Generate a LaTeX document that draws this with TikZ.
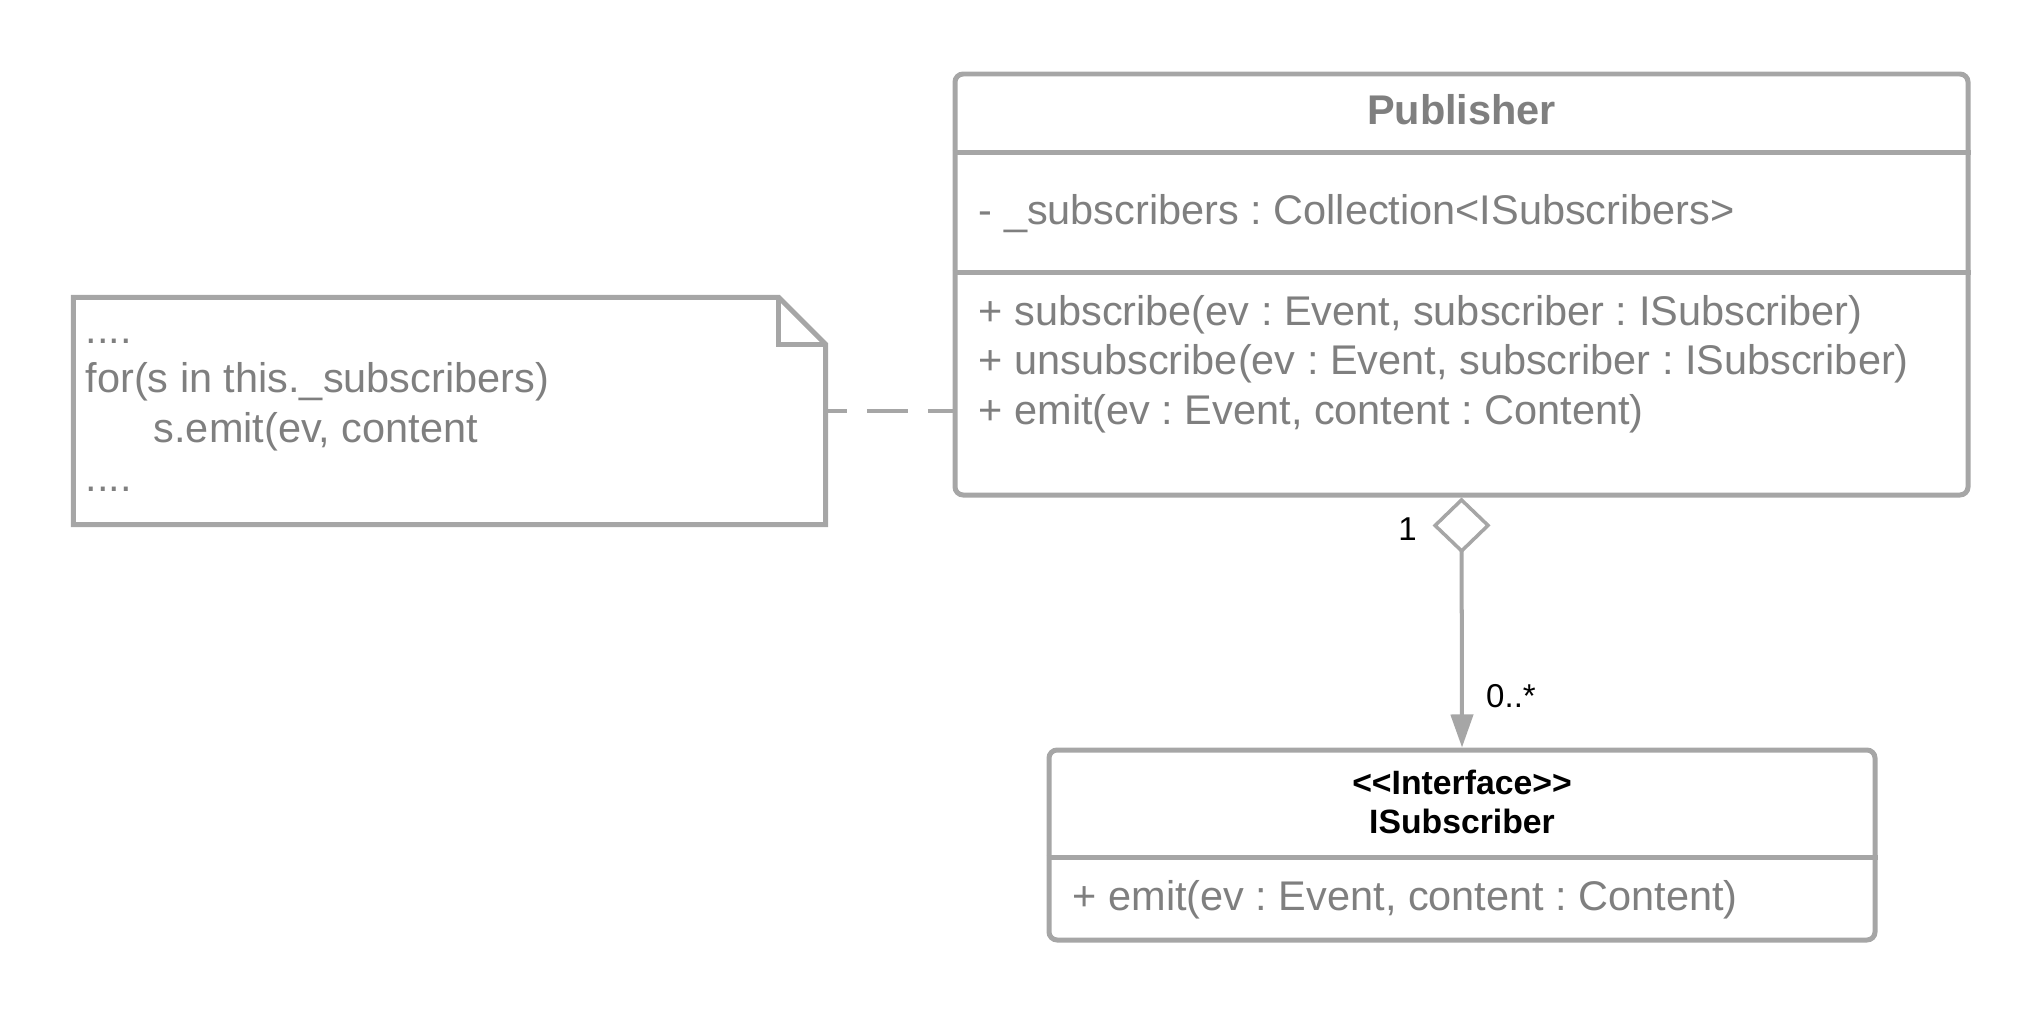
\documentclass[tikz,border=0pt]{standalone}
\usepackage{fontspec}
\setmainfont{Liberation Sans}
\usetikzlibrary{arrows.meta,calc,positioning}
\definecolor{lineGrey}{HTML}{A6A6A6}
\definecolor{textGrey}{HTML}{7F7F7F}
\frenchspacing

\begin{document}
\begin{tikzpicture}[
  classbox/.style={draw=lineGrey,line width=1.42pt,rounded corners=2.3pt,fill=white,inner sep=0pt},
  divider/.style={lineGrey,line width=1.42pt},
  member/.style={anchor=base west,inner sep=0pt,text=textGrey,font=\fontsize{11.8}{14.2}\selectfont},
  cname/.style={anchor=base,inner sep=0pt,font=\fontsize{11.8}{14.2}\selectfont\bfseries},
  stereo/.style={anchor=base,inner sep=0pt,font=\fontsize{9.6}{11.5}\selectfont\bfseries},
  mult/.style={anchor=base,inner sep=0pt,font=\fontsize{9.4}{11.3}\selectfont},
  assoc/.style={lineGrey,line width=1.14pt,
    {Diamond[open,length=15.9pt,width=16.5pt,line width=1pt]}-{Triangle[length=9.4pt,width=6.3pt]}},
  notelink/.style={lineGrey,line width=1.14pt,dash pattern=on 11.7pt off 5.7pt,dash phase=5.7pt}
]
  \useasboundingbox (0,0) rectangle (20.44,-10.16);

  % classes
  \node[classbox,minimum width=10.13cm,minimum height=4.21cm] (pub) at (14.615,-2.845) {};
  \draw[divider] ($(pub.north west)+(0,-0.81)$) -- ($(pub.north east)+(0,-0.81)$);
  \draw[divider] ($(pub.north west)+(0,-2.01)$) -- ($(pub.north east)+(0,-2.01)$);
  \node[cname,text=textGrey] (pubname) at (14.615,-1.24) {Publisher};
  \node[member] (pubattr) at (9.78,-2.24) {- \_subscribers : Collection<ISubscribers>};
  \node[member] (pubsub) at (9.78,-3.25) {+ subscribe(ev : Event, subscriber : ISubscriber)};
  \node[member] (pubunsub) at (9.78,-3.74) {+ unsubscribe(ev : Event, subscriber : ISubscriber)};
  \node[member] (pubemit) at (9.78,-4.24) {+ emit(ev : Event, content : Content)};

  \node[classbox,minimum width=8.26cm,minimum height=1.90cm] (isub) at (14.62,-8.45) {};
  \draw[divider] ($(isub.north west)+(0,-1.10)$) -- ($(isub.north east)+(0,-1.10)$);
  \node[stereo] (isubstereo) at (14.62,-7.94) {<{}<Interface>{}>};
  \node[stereo] (isubname) at (14.62,-8.33) {ISubscriber};
  \node[member] (isubemit) at (10.72,-9.10) {+ emit(ev : Event, content : Content)};

  % note
  \node[minimum width=7.51cm,minimum height=2.26cm,inner sep=0pt] (note) at (4.495,-4.11) {};
  \draw[divider,line join=miter] (note.north west) -- ($(note.north east)+(-0.47,0)$)
    -- ($(note.north east)+(0,-0.47)$) -- (note.south east) -- (note.south west) -- cycle;
  \draw[divider,line join=miter] ($(note.north east)+(-0.47,0)$) |- ($(note.north east)+(0,-0.47)$);
  \node[member] (noteA) at (0.85,-3.43) {....};
  \node[member] (noteB) at (0.85,-3.92) {for(s in this.\_subscribers)};
  \node[member] (noteC) at (1.53,-4.42) {s.emit(ev, content};
  \node[member] (noteD) at (0.85,-4.91) {....};

  % connectors
  \draw[notelink] (note.east) -- (note.east -| pub.west);
  \draw[assoc] (pub.south) -- (isub.north);
  \node[mult] (multone) at (14.075,-5.40) {1};
  \node[mult] (multmany) at (15.11,-7.07) {0..*};
\end{tikzpicture}
\end{document}
